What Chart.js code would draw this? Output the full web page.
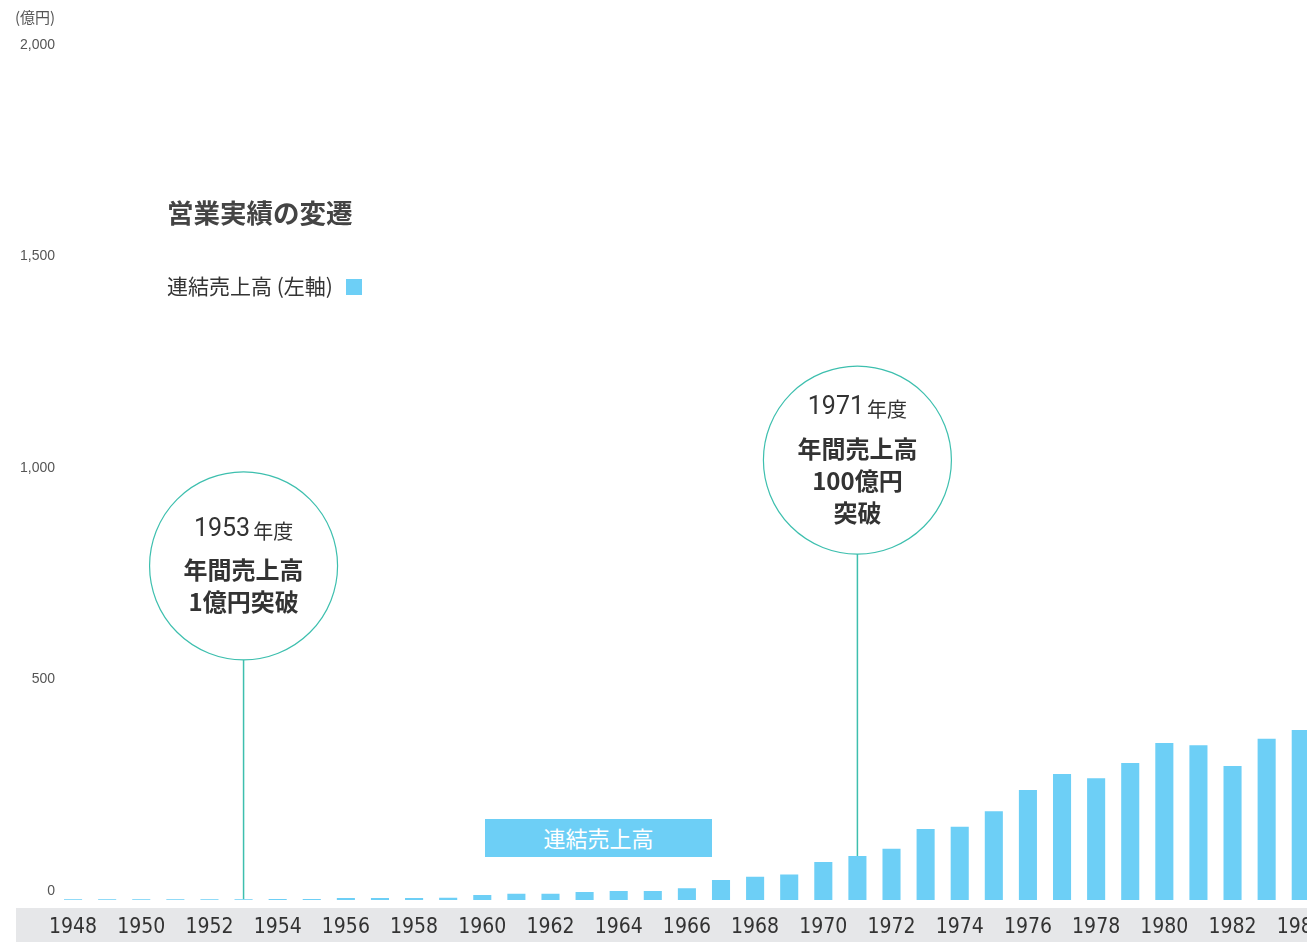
<!DOCTYPE html>
<html lang="ja">
<head>
<meta charset="utf-8">
<title>営業実績の変遷</title>
<script src="https://cdn.jsdelivr.net/npm/chart.js@4/dist/chart.umd.min.js"></script>
<style>
  html, body { margin: 0; padding: 0; background: #fff; }
  body { width: 1307px; height: 942px; overflow: hidden; position: relative; font-family: 'Noto Sans CJK JP', sans-serif; }
  #wrap { position: absolute; left: 0; top: 0; width: 1340px; height: 942px; }
  .unit { position: absolute; left: 15px; top: 6px; font-size: 15px; color: #555; }
  .titulo { position: absolute; left: 167px; top: 192px; font-size: 26.5px; font-weight: 700; color: #444; white-space: nowrap; }
  .leyenda { position: absolute; left: 167px; top: 270px; font-size: 21px; color: #333; white-space: nowrap; }
  .leyenda i { display: inline-block; width: 16px; height: 16px; background: #6dcff6; margin-left: 13px; vertical-align: -1px; }
  .etiqueta { position: absolute; left: 485px; top: 819px; width: 227px; height: 38px; line-height: 36px; background: #6dcff6; color: #fff; text-align: center; font-size: 22px; }
</style>
</head>
<body>
<div id="wrap"><canvas id="grafica"></canvas></div>
<div class="unit">(億円)</div>
<div class="titulo">営業実績の変遷</div>
<div class="leyenda">連結売上高 (左軸)<i></i></div>
<div class="etiqueta">連結売上高</div>
<script>
// Datos (億円)
const anios = ['1948', '1949', '1950', '1951', '1952', '1953', '1954', '1955', '1956', '1957',
  '1958', '1959', '1960', '1961', '1962', '1963', '1964', '1965', '1966', '1967',
  '1968', '1969', '1970', '1971', '1972', '1973', '1974', '1975', '1976', '1977',
  '1978', '1979', '1980', '1981', '1982', '1983', '1984'];
const ventas = [1.5, 1.6, 1.7, 1.8, 1.9, 2.0, 2.1, 2.3, 4.5, 4.8,
  5.0, 5.5, 12, 15, 15, 19, 21, 21, 28, 47,
  55, 60, 90, 104, 121, 168, 173, 210, 260, 298,
  288, 324, 371, 366, 317, 381, 402];
const ticksY = [0, 500, 1000, 1500, 2000];

// Hitos (círculos)
const hitoAnios = ['1953', '1971'];
const hitoCentro = [790, 1040];
const hitoTextos = [['年間売上高', '1億円突破'], ['年間売上高', '100億円', '突破']];

const AZUL = '#6dcff6';
const VERDE = '#3dbfae';

// banda gris bajo el eje x
const bandaGris = {
  id: 'bandaGris',
  beforeDraw(chart) {
    const { ctx, chartArea } = chart;
    ctx.save();
    ctx.fillStyle = '#e6e7e9';
    ctx.fillRect(16, chartArea.bottom + 8, chart.width - 16, chart.height - chartArea.bottom - 8);
    ctx.restore();
  }
};

// círculos con texto y línea hasta la barra
const hitos = {
  id: 'hitos',
  afterDatasetsDraw(chart) {
    const { ctx } = chart;
    const xs = chart.scales.x, ys = chart.scales.y;
    const r = 94;
    hitoAnios.forEach((anio, k) => {
      const idx = anios.indexOf(anio);
      const cx = xs.getPixelForValue(idx);
      const cy = ys.getPixelForValue(hitoCentro[k]);
      const yBarra = ys.getPixelForValue(ventas[idx]);
      ctx.save();
      ctx.strokeStyle = VERDE;
      ctx.lineWidth = 1.5;
      ctx.beginPath();
      ctx.moveTo(cx, cy + r);
      ctx.lineTo(cx, yBarra);
      ctx.stroke();
      ctx.beginPath();
      ctx.arc(cx, cy, r, 0, Math.PI * 2);
      ctx.fillStyle = '#fff';
      ctx.fill();
      ctx.lineWidth = 1.2;
      ctx.stroke();

      const lineas = hitoTextos[k];
      const alto = 41 + 32 * (lineas.length - 1);
      let y = cy - alto / 2;
      ctx.fillStyle = '#333';
      ctx.textBaseline = 'middle';
      // año + 年度
      const fAnio = '400 25px Roboto, sans-serif';
      const fNendo = '20px "Noto Sans CJK JP", sans-serif';
      ctx.font = fAnio;
      const w1 = ctx.measureText(anio).width;
      ctx.font = fNendo;
      const w2 = ctx.measureText('年度').width;
      const x0 = cx - (w1 + 3 + w2) / 2;
      ctx.textAlign = 'left';
      ctx.font = fAnio;
      ctx.fillText(anio, x0, y);
      ctx.font = fNendo;
      ctx.fillText('年度', x0 + w1 + 3, y + 2);
      ctx.textAlign = 'center';
      ctx.font = '700 24px "Noto Sans CJK JP", sans-serif';
      y += 41;
      lineas.forEach(t => { ctx.fillText(t, cx, y); y += 32; });
      ctx.restore();
    });
  }
};

const ctx = document.getElementById('grafica').getContext('2d');
const chart = new Chart(ctx, {
  type: 'bar',
  data: {
    labels: anios,
    datasets: [{
      label: '連結売上高',
      data: ventas,
      backgroundColor: AZUL,
      borderWidth: 0,
      categoryPercentage: 1,
      barPercentage: 0.53
    }]
  },
  options: {
    responsive: true,
    maintainAspectRatio: false,
    animation: false,
    layout: { padding: { top: 54, right: 16, left: 0, bottom: 0 } },
    plugins: {
      legend: { display: false },
      tooltip: { enabled: false }
    },
    scales: {
      x: {
        grid: { display: false, drawTicks: false },
        border: { display: false },
        ticks: {
          autoSkip: false,
          maxRotation: 0,
          padding: 15,
          color: '#333',
          font: { family: "'Liberation Sans Narrow', 'DejaVu Sans Condensed', sans-serif", size: 21 },
          callback: (v, i) => (i % 2 === 0 ? anios[i] : '')
        },
        afterFit: s => { s.height = 42; }
      },
      y: {
        min: 0,
        max: 2000,
        grid: { display: false, drawTicks: false },
        border: { display: false },
        afterBuildTicks: s => { s.ticks = ticksY.map(v => ({ value: v })); },
        ticks: {
          padding: 1,
          labelOffset: -9,
          color: '#555',
          font: { family: "'Liberation Sans', Arial, sans-serif", size: 14 },
          callback: v => v.toLocaleString('en-US')
        },
        afterFit: s => { s.width = 56; }
      }
    }
  },
  plugins: [bandaGris, hitos]
});
</script>
</body>
</html>
